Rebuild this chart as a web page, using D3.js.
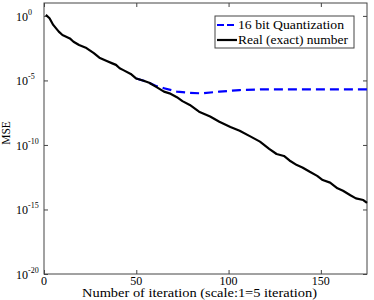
<!DOCTYPE html>
<html>
<head>
<meta charset="utf-8">
<script src="https://cdn.jsdelivr.net/npm/d3@7"></script>
<style>
	body { margin: 0; background: #fff; }
	svg text { font-family: "Liberation Serif", "DejaVu Serif", serif; }
</style>
</head>
<body>
<svg id="chart" width="374" height="300"></svg>
<script>
// values
const exactIter = [1, 3, 5, 8, 10, 14, 16, 19, 23, 27, 30, 34, 37, 39, 41, 43, 47, 50, 54, 57,
	61, 65, 68, 72, 75, 79, 84, 90, 95, 101, 106, 112, 117, 122, 126, 130, 133, 137, 140, 144,
	148, 151, 155, 159, 162, 166, 169, 173, 175];
const exactMSE = [1.2, 0.66, 0.2, 0.06, 0.033, 0.018, 0.01, 5.5e-3, 3.2e-3, 1.3e-3, 5.8e-4, 3.2e-4, 2.1e-4, 1.6e-4, 8.7e-5, 6.3e-5, 3.2e-5, 1.4e-5, 9.5e-6, 6.6e-6,
	3e-6, 1.35e-6, 1e-6, 5e-7, 2.5e-7, 1.26e-7, 3.8e-8, 1.6e-8, 6.3e-9, 2.5e-9, 1.26e-9, 4.4e-10, 1.8e-10, 5e-11, 2e-11, 1.4e-11, 6.3e-12, 2.75e-12, 1.8e-12, 8.3e-13,
	4e-13, 1.9e-13, 1.2e-13, 4.4e-14, 2.8e-14, 1.26e-14, 7.2e-15, 5.4e-15, 3.2e-15];

const quantIter = [50, 54, 57, 61, 65, 72, 79, 85, 95, 106, 117, 130, 150, 175];
const quantMSE = [1.4e-5, 9.5e-6, 6.6e-6, 3.6e-6, 2.5e-6, 1.35e-6, 1.1e-6, 1.0e-6, 1.35e-6, 1.8e-6, 2.0e-6, 2.0e-6, 2.0e-6, 2.0e-6];

const xTicks = [0, 50, 100, 150];
const yTicks = [1e0, 1e-5, 1e-10, 1e-15, 1e-20];
const yTickExp = ["0", "-5", "-10", "-15", "-20"];

const legendLabels = ["16 bit Quantization", "Real (exact) number"];

// --------------------------------------------------------------------

const svg = d3.select("#chart");
const margin = {top: 3, right: 7, bottom: 26, left: 44};
const width = 374 - margin.left - margin.right;
const height = 300 - margin.top - margin.bottom;

const g = svg.append("g")
	.attr("transform", `translate(${margin.left},${margin.top})`);

const x = d3.scaleLinear().domain([0, 175]).range([0, width]);
const y = d3.scaleLog().domain([1e-20, 1e1]).range([height, 0]);

const axisColor = "#444";

// frame
g.append("rect")
	.attr("width", width)
	.attr("height", height)
	.attr("fill", "none")
	.attr("stroke", axisColor)
	.attr("stroke-width", 1);

// inward ticks on all four sides
const tickLen = 4;
[d3.axisBottom(x), d3.axisTop(x)].forEach((ax, i) => {
	const a = g.append("g")
		.attr("transform", i === 0 ? `translate(0,${height})` : "")
		.call(ax.tickValues(xTicks).tickSizeInner(-tickLen).tickSizeOuter(0).tickFormat(""));
	a.select(".domain").remove();
	a.selectAll("line").attr("stroke", axisColor);
});
[d3.axisLeft(y), d3.axisRight(y)].forEach((ax, i) => {
	const a = g.append("g")
		.attr("transform", i === 0 ? "" : `translate(${width},0)`)
		.call(ax.tickValues(yTicks).tickSizeInner(-tickLen).tickSizeOuter(0).tickFormat(""));
	a.select(".domain").remove();
	a.selectAll("line").attr("stroke", axisColor);
});

// x tick labels
g.selectAll("text.xlab")
	.data(xTicks)
	.join("text")
	.attr("class", "xlab")
	.attr("x", d => x(d))
	.attr("y", height + 11)
	.attr("text-anchor", "middle")
	.attr("font-size", 12)
	.text(d => d);

// y tick labels: 10 with superscript exponent
const yl = g.selectAll("text.ylab")
	.data(yTicks)
	.join("text")
	.attr("class", "ylab")
	.attr("x", 16 - margin.left)
	.attr("y", d => y(d) + 5)
	.attr("font-size", 12);
yl.append("tspan").text("10");
yl.append("tspan")
	.attr("dy", -6)
	.attr("font-size", 8)
	.text((d, i) => yTickExp[i]);

// lines
const line = d3.line()
	.x(d => x(d[0]))
	.y(d => y(d[1]));

g.append("path")
	.datum(d3.zip(quantIter, quantMSE))
	.attr("d", line)
	.attr("fill", "none")
	.attr("stroke", "#0000ff")
	.attr("stroke-width", 2.2)
	.attr("stroke-dasharray", "9,5");

g.append("path")
	.datum(d3.zip(exactIter, exactMSE))
	.attr("d", line)
	.attr("fill", "none")
	.attr("stroke", "#000")
	.attr("stroke-width", 2.2)
	.attr("stroke-linejoin", "round");

// legend
const legend = svg.append("g").attr("transform", "translate(215,16)");
legend.append("rect")
	.attr("width", 139)
	.attr("height", 32)
	.attr("fill", "#fff")
	.attr("stroke", axisColor);
const styles = [{color: "#0000ff", dash: "7,3", len: 106}, {color: "#000", dash: null, len: 110}];
legendLabels.forEach((lab, i) => {
	const ly = 9 + i * 15;
	legend.append("line")
		.attr("x1", 2).attr("x2", 22)
		.attr("y1", ly).attr("y2", ly)
		.attr("stroke", styles[i].color)
		.attr("stroke-width", 2.2)
		.attr("stroke-dasharray", styles[i].dash);
	legend.append("text")
		.attr("x", 23)
		.attr("y", ly + 4)
		.attr("font-size", 12)
		.attr("textLength", styles[i].len)
		.attr("lengthAdjust", "spacingAndGlyphs")
		.text(lab);
});

// axis titles
svg.append("text")
	.attr("x", 82)
	.attr("y", 297)
	.attr("font-size", 11.5)
	.attr("textLength", 235)
	.attr("lengthAdjust", "spacingAndGlyphs")
	.text("Number of iteration (scale:1=5 iteration)");

svg.append("text")
	.attr("transform", "translate(10,133) rotate(-90)")
	.attr("text-anchor", "middle")
	.attr("font-size", 11.5)
	.text("MSE");
</script>
</body>
</html>
